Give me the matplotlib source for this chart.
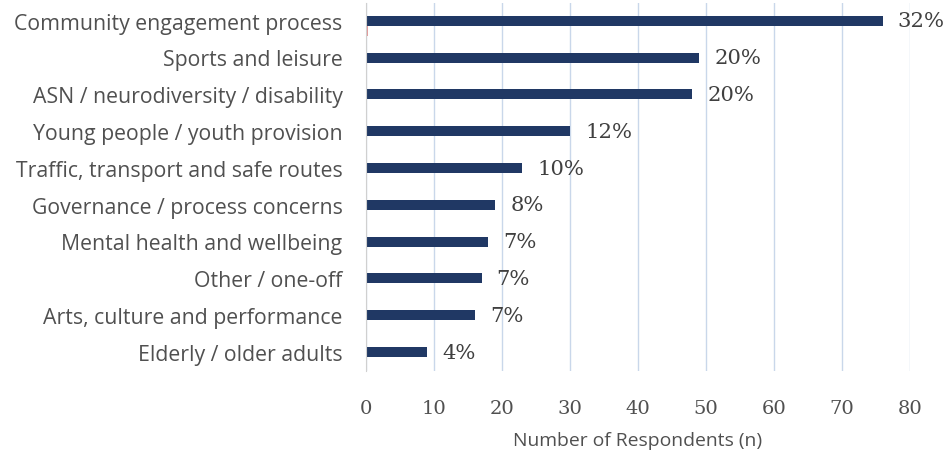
import matplotlib
matplotlib.use("Agg")
import matplotlib.pyplot as plt
import numpy as np

categories = ["Community engagement process", "Sports and leisure",
              "ASN / neurodiversity / disability", "Young people / youth provision",
              "Traffic, transport and safe routes", "Governance / process concerns",
              "Mental health and wellbeing", "Other / one-off",
              "Arts, culture and performance", "Elderly / older adults"]
counts = [76, 49, 48, 30, 23, 19, 18, 17, 16, 9]
shares = [0.32, 0.20, 0.20, 0.12, 0.10, 0.08, 0.07, 0.07, 0.07, 0.04]
pct_labels = ["32%", "20%", "20%", "12%", "10%", "8%", "7%", "7%", "7%", "4%"]
xticks = [0, 10, 20, 30, 40, 50, 60, 70, 80]

fig = plt.figure(figsize=(9.46, 4.56), dpi=100)
ax = fig.add_axes([366/946, 1-372/456, (910-366)/946, 368/456])

y = np.arange(len(categories))
h = 0.27
ax.barh(y - h/2 + 0.12, counts, height=h, color="#203864", zorder=3)
ax.barh(y + h/2 + 0.12, shares, height=h, color="#e39a9a", zorder=3)

for yi, c, lab in zip(y, counts, pct_labels):
    ax.text(c + 2.2, yi - h/2 + 0.12, lab, va="center", ha="left",
            family="DejaVu Serif", fontsize=15.2, color="#404040")

ax.set_ylim(len(categories) - 0.5, -0.5)
ax.set_xlim(0, 80)
ax.set_yticks(y - 0.02)
ax.set_yticklabels(categories, family="Open Sans", fontsize=15.3, color="#505050")
ax.set_xticks(xticks)
ax.set_xticklabels([str(t) for t in xticks], family="DejaVu Serif", fontsize=14, color="#505050")
ax.tick_params(axis="y", length=0, pad=17)
ax.tick_params(axis="x", length=0, pad=20)
ax.grid(axis="x", color="#c9d7ea", linewidth=1, zorder=0)
for s in ["top", "right", "bottom"]:
    ax.spines[s].set_visible(False)
ax.spines["left"].set_color("#d0d0d0")
ax.spines["left"].set_zorder(4)
ax.set_xlabel("Number of Respondents (n)", family="Open Sans", fontsize=13.9, color="#505050", labelpad=10)

fig.savefig("out.png", dpi=100)
